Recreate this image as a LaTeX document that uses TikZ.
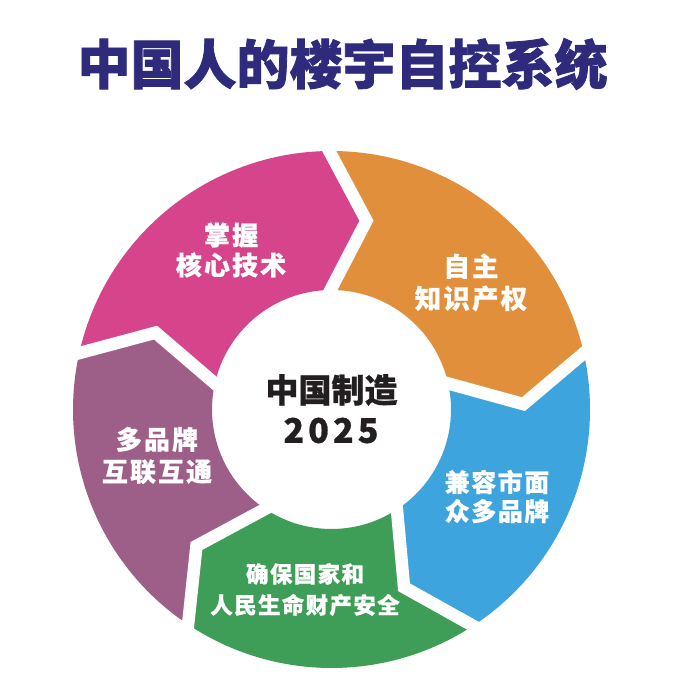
\documentclass[tikz,border=0pt]{standalone}
\usepackage{fontspec}
\usetikzlibrary{calc}
\newfontfamily\cjk{Noto Sans CJK SC}
\definecolor{titleC}{HTML}{2E2B7D}
\definecolor{magC}{HTML}{D6458B}
\definecolor{oraC}{HTML}{E18F3B}
\definecolor{bluC}{HTML}{3EA4DD}
\definecolor{greC}{HTML}{3E9E58}
\definecolor{purC}{HTML}{9D5F87}
\definecolor{darkC}{HTML}{231F20}
\begin{document}
\begin{tikzpicture}[x=1pt,y=1pt,
  gapline/.style={white, line width=12.5pt, line join=miter},
  seglabel/.style={text=white, align=center, inner sep=0pt}]
\useasboundingbox (0,0) rectangle (678,700);
\fill[white] (0,0) rectangle (678,700);

\node[font={\cjk\bfseries\fontsize{53}{60}\selectfont\addfontfeature{FakeBold=1.5}}, text=titleC] (title) at (342.5,636) {中国人的楼宇自控系统};

\begin{scope}[shift={(331.5,290.5)}]
  % boundary points
  \coordinate (i1) at (167.4:119.5); \coordinate (t1) at (156.4:192); \coordinate (o1) at (167.4:258.5);
  \coordinate (i2) at (90.5:119.5);  \coordinate (t2) at (79.5:192);  \coordinate (o2) at (90.5:258.5);
  \coordinate (i3) at (12.6:119.5);  \coordinate (t3) at (1.6:192);   \coordinate (o3) at (12.6:258.5);
  \coordinate (i4) at (-56.8:119.5); \coordinate (t4) at (-67.8:192); \coordinate (o4) at (-56.8:258.5);
  \coordinate (i5) at (-123.7:119.5);\coordinate (t5) at (-134.7:192);\coordinate (o5) at (-123.7:258.5);

  \fill[magC] (o1) -- (t1) -- (i1) arc[start angle=167.4, end angle=90.5, radius=119.5]
     -- (t2) -- (o2) arc[start angle=90.5, end angle=167.4, radius=258.5] -- cycle;
  \fill[oraC] (o2) -- (t2) -- (i2) arc[start angle=90.5, end angle=12.6, radius=119.5]
     -- (t3) -- (o3) arc[start angle=12.6, end angle=90.5, radius=258.5] -- cycle;
  \fill[bluC] (o3) -- (t3) -- (i3) arc[start angle=12.6, end angle=-56.8, radius=119.5]
     -- (t4) -- (o4) arc[start angle=-56.8, end angle=12.6, radius=258.5] -- cycle;
  \fill[greC] (o4) -- (t4) -- (i4) arc[start angle=-56.8, end angle=-123.7, radius=119.5]
     -- (t5) -- (o5) arc[start angle=-123.7, end angle=-56.8, radius=258.5] -- cycle;
  \fill[purC] (o5) -- (t5) -- (i5) arc[start angle=-123.7, end angle=-192.6, radius=119.5]
     -- (t1) -- (o1) arc[start angle=-192.6, end angle=-123.7, radius=258.5] -- cycle;

  \foreach \k in {1,...,5}{
    \draw[gapline] ($(t\k)!1.25!(i\k)$) -- (t\k) -- ($(t\k)!1.25!(o\k)$);
  }
\end{scope}

\node[seglabel, font={\cjk\bfseries\fontsize{26}{30}\selectfont\addfontfeature{LetterSpace=8,FakeBold=0.6}}] (lmag) at (231,450) {掌握\\核心技术};
\node[seglabel, font={\cjk\bfseries\fontsize{26.5}{32}\selectfont\addfontfeature{LetterSpace=8,FakeBold=0.6}}] (lora) at (471,417.5) {自主\\知识产权};
\node[seglabel, font={\cjk\bfseries\fontsize{25}{29}\selectfont\addfontfeature{LetterSpace=6,FakeBold=0.6}}] (lblu) at (497,203.5) {兼容市面\\众多品牌};
\node[seglabel, font={\cjk\bfseries\fontsize{22.5}{31}\selectfont\addfontfeature{LetterSpace=6,FakeBold=0.6}}] (lgre) at (305,110.5) {确保国家和\\人民生命财产安全};
\node[seglabel, font={\cjk\bfseries\fontsize{26}{32}\selectfont\addfontfeature{LetterSpace=8,FakeBold=0.6}}] (lpur) at (157,244.5) {多品牌\\互联互通};

\node[text=darkC, inner sep=0pt, font={\cjk\bfseries\fontsize{33}{36}\selectfont\addfontfeature{FakeBold=0.8}}] (c1) at (331.5,310) {中国制造};
\node[text=darkC, inner sep=0pt, font={\cjk\bfseries\fontsize{34}{36}\selectfont\addfontfeature{LetterSpace=12,FakeBold=0.8}}] (c2) at (331,269.5) {2025};
\end{tikzpicture}
\end{document}
